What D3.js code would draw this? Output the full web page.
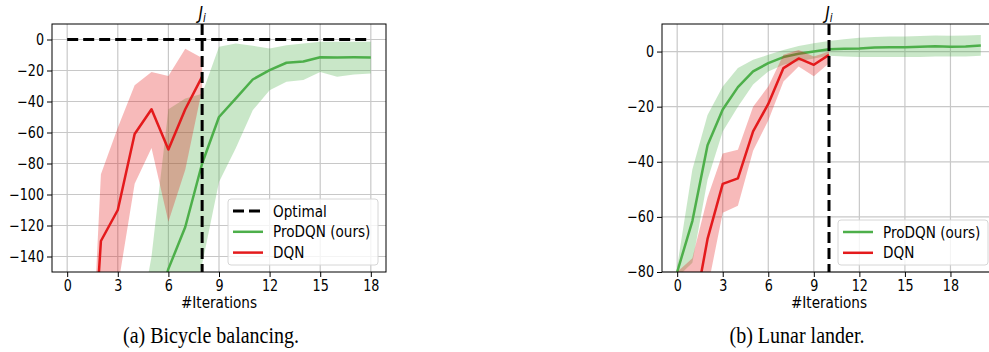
<!DOCTYPE html>
<html>
<head>
<meta charset="utf-8">
<script src="https://cdn.jsdelivr.net/npm/d3@7"></script>
<style>
    body { margin: 0; background: #fff; }
    svg { display: block; }
    text { font-family: "DejaVu Sans", sans-serif; }
</style>
</head>
<body>
<svg id="chart" width="989" height="352"></svg>
<script>
// ---- data: (a) bicycle balancing
const itersA = [0, 1, 2, 3, 4, 5, 6, 7, 8, 9, 10, 11, 12, 13, 14, 15, 16, 17, 18];
const proA   = [-430, -380, -330, -280, -230, -185, -148, -121, -80, -50, -38, -25.8, -19.8, -15, -14.2, -11.4, -11.6, -11.5, -11.6];
const proAUp = [-600, -500, -400, -300, -200, -140, -45, -38, -35, -4.7, -2.6, -4, -5.8, -3.7, -2.5, -1.5, -1.5, -1.5, -1.5];
const proALo = [-700, -650, -600, -500, -400, -300, -240, -190, -145, -92, -70, -45.6, -32.7, -27.3, -26.2, -20.9, -24, -22.5, -21.9];
const dqnItersA = [0, 1, 2, 3, 4, 5, 6, 7, 8];
const dqnA   = [-450, -300, -130, -110, -61, -45, -71, -45, -24];
const dqnAUp = [-400, -311, -87, -57, -29.5, -21, -23.6, -6, -12];
const dqnALo = [-500, -400, -200, -160, -93, -70, -117.5, -84, -32];
const optimalA = [[0, 0], [18, 0]];

// ---- data: (b) lunar lander
const itersB = [0, 1, 2, 3, 4, 5, 6, 7, 8, 9, 10, 11, 12, 13, 14, 15, 16, 17, 18, 19, 20];
const proB   = [-80, -61.5, -34, -21, -12.9, -7.2, -4.2, -2, -0.8, 0, 0.8, 1.0, 1.1, 1.5, 1.6, 1.6, 1.7, 1.9, 1.7, 1.8, 2.2];
const proBUp = [-78, -42.8, -23, -12.7, -6, -3, -1.2, 0.6, 2, 3, 3.8, 4.5, 5, 5.3, 5.5, 5.5, 5.6, 5.8, 5.7, 5.8, 6];
const proBLo = [-82, -76.6, -46.5, -29, -20, -12, -7.2, -4.8, -3.5, -2.5, -1.5, -1.8, -2, -2, -2, -2, -2, -1.8, -1.8, -1.8, -1.5];
const dqnItersB = [0, 1, 2, 3, 4, 5, 6, 7, 8, 9, 10];
const dqnB   = [-130, -98, -68, -48, -46, -29, -19, -6, -2.5, -4.8, -1.2];
const dqnBUp = [-80, -75, -53, -37, -35.6, -20, -12.7, -1.2, 0.6, -1.8, 0];
const dqnBLo = [-180, -120, -86, -58.5, -56, -36, -25, -10.9, -5.4, -9, -4.2];

const xTicks = [0, 3, 6, 9, 12, 15, 18];
const yTicksA = [0, -20, -40, -60, -80, -100, -120, -140];
const yTicksB = [0, -20, -40, -60, -80];

const GREEN = '#4daf4a';
const RED = '#e41a1c';
const SQUEEZE = 0.85; // the figure is a bit narrow: glyphs look condensed

const svg = d3.select('#chart');

function zip(xs, ys) {
    return xs.map((x, i) => [x, ys[i]]);
}

// squeeze text horizontally (moves x/y into a transform)
function squeeze(sel, k) {
    sel.each(function () {
        const t = d3.select(this);
        const tx = +t.attr('x') || 0;
        const ty = +t.attr('y') || 0;
        t.attr('x', null).attr('y', null)
            .attr('transform', `translate(${tx},${ty}) scale(${k},1)`);
    });
}

function drawPanel(p) {
    const x = d3.scaleLinear().domain(p.xDomain).range([p.left, p.right]);
    const y = d3.scaleLinear().domain(p.yDomain).range([p.bottom, p.top]);
    const g = svg.append('g');

    g.append('clipPath').attr('id', p.id + '-clip')
        .append('rect')
        .attr('x', p.left).attr('y', p.top)
        .attr('width', p.right - p.left).attr('height', p.bottom - p.top);

    // grid
    g.append('g').selectAll('line').data(p.xTicks).join('line')
        .attr('x1', d => x(d)).attr('x2', d => x(d))
        .attr('y1', p.top).attr('y2', p.bottom)
        .attr('stroke', '#c8c8c8').attr('stroke-width', 1.2);
    g.append('g').selectAll('line').data(p.yTicks).join('line')
        .attr('x1', p.left).attr('x2', p.right)
        .attr('y1', d => y(d)).attr('y2', d => y(d))
        .attr('stroke', '#c8c8c8').attr('stroke-width', 1.2);

    const plot = g.append('g').attr('clip-path', `url(#${p.id}-clip)`);

    const area = d3.area().x(d => x(d[0])).y0(d => y(d[1])).y1(d => y(d[2]));
    const line = d3.line().x(d => x(d[0])).y(d => y(d[1]));

    p.series.forEach(s => {
        plot.append('path')
            .datum(s.xs.map((v, i) => [v, s.lo[i], s.up[i]]))
            .attr('d', area)
            .attr('fill', s.color).attr('fill-opacity', 0.3);
        plot.append('path')
            .datum(zip(s.xs, s.mean))
            .attr('d', line)
            .attr('fill', 'none').attr('stroke', s.color)
            .attr('stroke-width', 2.5).attr('stroke-linejoin', 'round');
    });

    if (p.optimal) {
        plot.append('path')
            .datum(p.optimal)
            .attr('d', line)
            .attr('fill', 'none').attr('stroke', '#000')
            .attr('stroke-width', 3).attr('stroke-dasharray', '11,5');
    }

    // J_i marker
    plot.append('line')
        .attr('x1', x(p.jAt)).attr('x2', x(p.jAt))
        .attr('y1', p.top).attr('y2', p.bottom)
        .attr('stroke', '#000').attr('stroke-width', 3).attr('stroke-dasharray', '11,5');
    const jt = g.append('text')
        .attr('transform', `translate(${x(p.jAt)},19) scale(${SQUEEZE},1)`)
        .attr('text-anchor', 'middle')
        .style('font-size', '18px').style('font-style', 'italic');
    jt.append('tspan').text('J');
    jt.append('tspan').attr('dy', 3).style('font-size', '12px').text('i');

    // axes
    const xAxis = d3.axisBottom(x).tickValues(p.xTicks).tickSize(5).tickPadding(3);
    const yAxis = d3.axisLeft(y).tickValues(p.yTicks).tickSize(5).tickPadding(3)
        .tickFormat(d => d < 0 ? '\u2212' + Math.abs(d) : d);
    const gx = g.append('g').attr('transform', `translate(0,${p.bottom})`).call(xAxis);
    const gy = g.append('g').attr('transform', `translate(${p.left},0)`).call(yAxis);
    [gx, gy].forEach(a => {
        a.select('.domain').remove();
        a.selectAll('.tick line').attr('stroke', '#000').attr('stroke-width', 1);
        a.selectAll('.tick text').attr('fill', '#000')
            .style('font-size', '15px').style('font-family', '"DejaVu Sans", sans-serif')
            .call(squeeze, SQUEEZE);
    });

    g.append('rect')
        .attr('x', p.left).attr('y', p.top)
        .attr('width', p.right - p.left).attr('height', p.bottom - p.top)
        .attr('fill', 'none').attr('stroke', '#000').attr('stroke-width', 1);

    g.append('text')
        .attr('x', (p.left + p.right) / 2).attr('y', 308)
        .attr('text-anchor', 'middle')
        .style('font-size', '16px')
        .text('#Iterations')
        .call(squeeze, SQUEEZE);

    // legend
    const lg = g.append('g');
    lg.append('rect')
        .attr('x', p.legend.x).attr('y', p.legend.y)
        .attr('width', p.legend.w).attr('height', p.legend.h)
        .attr('rx', 3)
        .attr('fill', '#fff').attr('fill-opacity', 0.8)
        .attr('stroke', '#d6d6d6').attr('stroke-width', 1);
    p.legend.items.forEach((it, i) => {
        const cy = p.legend.y + 12 + i * 20.8;
        lg.append('line')
            .attr('x1', p.legend.x + 5).attr('x2', p.legend.x + 35)
            .attr('y1', cy).attr('y2', cy)
            .attr('stroke', it.color).attr('stroke-width', it.dash ? 3 : 2.5)
            .attr('stroke-dasharray', it.dash ? '11,5' : null);
        lg.append('text')
            .attr('x', p.legend.x + 45).attr('y', cy + 5.5)
            .style('font-size', '16px')
            .text(it.label)
            .call(squeeze, SQUEEZE);
    });

    svg.append('text')
        .attr('x', p.captionX).attr('y', 343)
        .attr('text-anchor', 'middle')
        .style('font-family', '"Liberation Serif", "Times New Roman", serif')
        .style('font-size', '23px')
        .text(p.caption)
        .call(squeeze, 0.87);
}

drawPanel({
    id: 'a',
    left: 52, right: 386, top: 24, bottom: 272,
    xDomain: [-0.9, 18.9], yDomain: [-150, 10],
    xTicks: xTicks, yTicks: yTicksA,
    jAt: 8,
    optimal: optimalA,
    series: [
        { xs: itersA, mean: proA, up: proAUp, lo: proALo, color: GREEN },
        { xs: dqnItersA, mean: dqnA, up: dqnAUp, lo: dqnALo, color: RED }
    ],
    legend: {
        x: 228, y: 199, w: 150, h: 66,
        items: [
            { label: 'Optimal', color: '#000', dash: true },
            { label: 'ProDQN (ours)', color: GREEN },
            { label: 'DQN', color: RED }
        ]
    },
    caption: '(a) Bicycle balancing.',
    captionX: 211
});

drawPanel({
    id: 'b',
    left: 662, right: 996, top: 24, bottom: 272,
    xDomain: [-1, 21], yDomain: [-80, 10],
    xTicks: xTicks, yTicks: yTicksB,
    jAt: 10,
    optimal: null,
    series: [
        { xs: itersB, mean: proB, up: proBUp, lo: proBLo, color: GREEN },
        { xs: dqnItersB, mean: dqnB, up: dqnBUp, lo: dqnBLo, color: RED }
    ],
    legend: {
        x: 838, y: 220, w: 150, h: 45,
        items: [
            { label: 'ProDQN (ours)', color: GREEN },
            { label: 'DQN', color: RED }
        ]
    },
    caption: '(b) Lunar lander.',
    captionX: 797
});
</script>
</body>
</html>
